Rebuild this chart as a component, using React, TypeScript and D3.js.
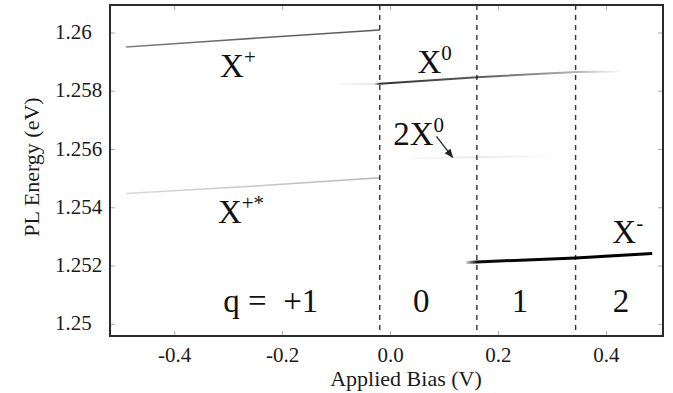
import React from "react";
import * as d3 from "d3";

// axis ticks
const biasTicks = [-0.4, -0.2, 0.0, 0.2, 0.4];
const energyTicks = [1.25, 1.252, 1.254, 1.256, 1.258, 1.26];
const energyTickLabels = ["1.25", "1.252", "1.254", "1.256", "1.258", "1.26"];

// charge-state boundaries (V)
const boundaries = [-0.02, 0.16, 0.343];

// PL lines: bias (V), energy (eV), relative intensity (0..1)
const xPlusBias = [-0.49, -0.3, -0.02];
const xPlusEnergy = [1.25952, 1.25976, 1.2601];
const xPlusInk = [0.5, 0.6, 0.65];

const xPlusStarBias = [-0.49, -0.25, -0.02];
const xPlusStarEnergy = [1.25449, 1.25475, 1.25503];
const xPlusStarInk = [0.15, 0.22, 0.28];

const xZeroBias = [-0.1, -0.03, -0.02, 0.16, 0.343, 0.43];
const xZeroEnergy = [1.25824, 1.25825, 1.25826, 1.25848, 1.25866, 1.25868];
const xZeroInk = [0.03, 0.1, 0.8, 0.65, 0.3, 0.0];

const biexBias = [0.04, 0.16, 0.29];
const biexEnergy = [1.2557, 1.25574, 1.25577];
const biexInk = [0.03, 0.1, 0.02];

const xMinusBias = [0.14, 0.16, 0.343, 0.485];
const xMinusEnergy = [1.25212, 1.25214, 1.25228, 1.25243];
const xMinusInk = [0.15, 0.95, 1, 1];

const W = 673;
const H = 393;
const left = 110;
const right = 663;
const top = 5;
const bottom = 336;

const serif = "'Liberation Serif', 'Times New Roman', serif";

type Series = { bias: number[]; energy: number[]; ink: number[]; width: number };

export default function App() {
  const x = d3.scaleLinear().domain([-0.52, 0.505]).range([left, right]);
  const y = d3.scaleLinear().domain([1.2496, 1.26096]).range([bottom, top]);
  const line = d3
    .line<[number, number]>()
    .x((p) => x(p[0]))
    .y((p) => y(p[1]));

  const series: Series[] = [
    { bias: xPlusBias, energy: xPlusEnergy, ink: xPlusInk, width: 1.6 },
    { bias: xPlusStarBias, energy: xPlusStarEnergy, ink: xPlusStarInk, width: 1.6 },
    { bias: xZeroBias, energy: xZeroEnergy, ink: xZeroInk, width: 2 },
    { bias: biexBias, energy: biexEnergy, ink: biexInk, width: 1.6 },
    { bias: xMinusBias, energy: xMinusEnergy, ink: xMinusInk, width: 3 },
  ];

  // each line fades with its intensity, done with a gradient along x
  const paths = series.map((s, si) => {
    const pts = s.bias.map((b, i) => [b, s.energy[i]] as [number, number]);
    return {
      id: `g${si}`,
      d: line(pts) as string,
      x0: x(s.bias[0]),
      x1: x(s.bias[s.bias.length - 1]),
      s,
    };
  });

  const big = 33;
  const sup = 21;

  return (
    <svg
      width={W}
      height={H}
      style={{ position: "absolute", left: 0, top: 0, background: "#fff" }}
      fontFamily={serif}
    >
      <defs>
        <marker id="arr" viewBox="0 0 10 10" refX="9" refY="5" markerWidth="7" markerHeight="7" orient="auto">
          <path d="M0,1 L10,5 L0,9 z" fill="#222" />
        </marker>
        {paths.map((p) => (
          <linearGradient key={p.id} id={p.id} gradientUnits="userSpaceOnUse" x1={p.x0} x2={p.x1} y1={0} y2={0}>
            {p.s.bias.map((b, i) => (
              <stop
                key={i}
                offset={(x(b) - p.x0) / (p.x1 - p.x0)}
                stopColor="#000"
                stopOpacity={p.s.ink[i]}
              />
            ))}
          </linearGradient>
        ))}
      </defs>

      {/* ticks */}
      {biasTicks.map((t) => (
        <g key={"bx" + t}>
          <line x1={x(t)} x2={x(t)} y1={bottom} y2={bottom - 5} stroke="#aaa" />
          <line x1={x(t)} x2={x(t)} y1={top} y2={top + 5} stroke="#aaa" />
          <text x={x(t)} y={362} textAnchor="middle" fontSize={21} fill="#1a1a1a">
            {t === 0 ? "0.0" : d3.format(".1f")(t).replace("−", "-")}
          </text>
        </g>
      ))}
      {energyTicks.map((t, i) => (
        <g key={"ey" + t}>
          <line x1={left} x2={left + 5} y1={y(t)} y2={y(t)} stroke="#aaa" />
          <line x1={right} x2={right - 5} y1={y(t)} y2={y(t)} stroke="#aaa" />
          <text x={55} y={y(t) + 6} fontSize={21} fill="#1a1a1a">
            {energyTickLabels[i]}
          </text>
        </g>
      ))}

      {/* charge-state boundaries */}
      {boundaries.map((b) => (
        <line
          key={"b" + b}
          x1={x(b)}
          x2={x(b)}
          y1={top}
          y2={bottom}
          stroke="#333"
          strokeWidth={1.4}
          strokeDasharray="5,5"
        />
      ))}

      {/* PL lines */}
      {paths.map((p) => (
        <path key={p.id} d={p.d} fill="none" stroke={`url(#${p.id})`} strokeWidth={p.s.width} />
      ))}

      {/* frame */}
      <rect x={left} y={top} width={right - left} height={bottom - top} fill="none" stroke="#2b2b2b" strokeWidth={2} />

      {/* labels */}
      <g fill="#111" fontSize={big}>
        <text x={x(-0.316)} y={y(1.2585)}>
          X<tspan fontSize={sup} dy={-13}>+</tspan>
        </text>
        <text x={x(0.05)} y={y(1.25863)}>
          X<tspan fontSize={sup} dy={-13}>0</tspan>
        </text>
        <text x={x(0.005)} y={y(1.25616)}>
          2X<tspan fontSize={sup} dy={-13}>0</tspan>
        </text>
        <text x={x(-0.32)} y={y(1.25348)}>
          X<tspan fontSize={sup} dy={-13}>+*</tspan>
        </text>
        <text x={x(0.411)} y={y(1.25279)}>
          X<tspan fontSize={sup} dy={-13}>-</tspan>
        </text>
        <text x={x(-0.31)} y={y(1.25041)} style={{ whiteSpace: "pre" }}>
          {"q =  +1"}
        </text>
        <text x={x(0.057)} y={y(1.25041)} textAnchor="middle">0</text>
        <text x={x(0.24)} y={y(1.25041)} textAnchor="middle">1</text>
        <text x={x(0.427)} y={y(1.25041)} textAnchor="middle">2</text>
      </g>
      <line
        x1={x(0.085)}
        y1={y(1.25645)}
        x2={x(0.115)}
        y2={y(1.25573)}
        stroke="#222"
        strokeWidth={1.3}
        markerEnd="url(#arr)"
      />

      {/* axis titles */}
      <text x={406} y={386} textAnchor="middle" fontSize={22} fill="#1a1a1a">
        Applied Bias (V)
      </text>
      <text
        transform={`translate(39, 167) rotate(-90)`}
        textAnchor="middle"
        fontSize={22}
        fill="#1a1a1a"
      >
        PL Energy (eV)
      </text>
    </svg>
  );
}
